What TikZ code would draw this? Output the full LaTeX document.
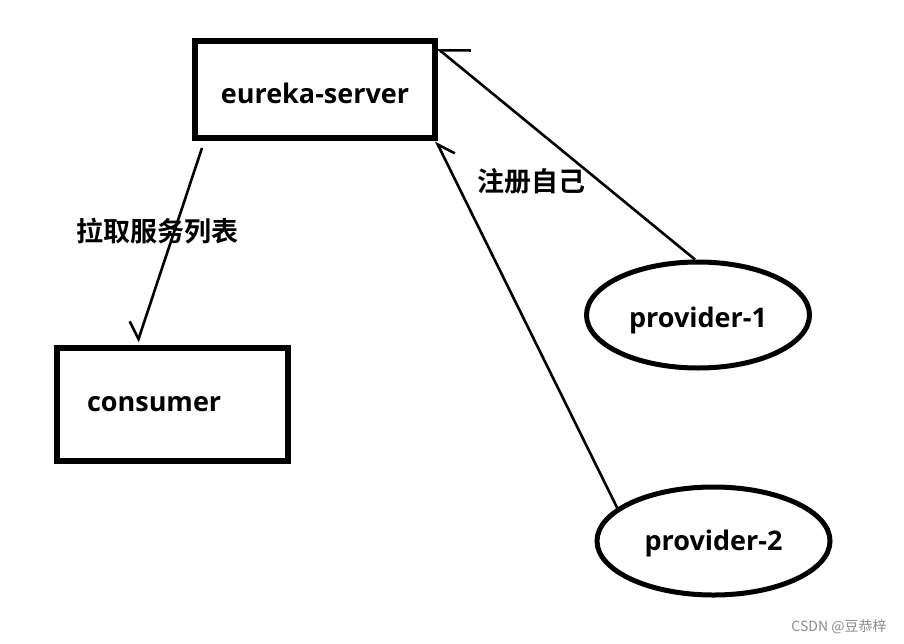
\documentclass[tikz,border=0pt]{standalone}
\usepackage{fontspec}
\setmainfont{Open Sans}
\newfontfamily\cjk[BoldFont={Noto Sans CJK SC Bold}]{Noto Sans CJK SC}
\usetikzlibrary{arrows.meta,shapes.geometric}
\definecolor{wmgray}{RGB}{140,140,140}
\begin{document}
\begin{tikzpicture}[x=1pt,y=-1pt,
  box/.style={draw, line width=6pt, inner sep=0pt, font=\bfseries\fontsize{27}{32}\selectfont},
  ell/.style={draw, ellipse, line width=5pt, inner sep=0pt, font=\bfseries\fontsize{27}{32}\selectfont},
  conn/.style={draw, line width=2.6pt},
  cnlbl/.style={font=\cjk\bfseries\fontsize{27}{32}\selectfont, inner sep=0pt},
  wm/.style={font=\cjk\fontsize{14}{16}\selectfont, text=wmgray, inner sep=0pt}
]
\useasboundingbox[fill=white] (0,0) rectangle (904,643);

\node[box, minimum width=240pt, minimum height=97pt, text height=28pt, text depth=0pt] (es) at (315,89.5) {eureka-server};
\node[box, minimum height=113pt, text width=171pt, inner xsep=30pt, align=left] (cons) at (172.5,404.5) {consumer};
\node[ell, minimum width=223pt, minimum height=106pt, text height=30pt, text depth=6pt] (p1) at (698,315) {provider-1};
\node[ell, minimum width=233pt, minimum height=108pt, text height=25pt, text depth=6pt] (p2) at (713.5,541) {provider-2};

\node[cnlbl] (l1) at (531,181) {注册自己};
\node[cnlbl] (l2) at (157,231) {拉取服务列表};
\node[wm] (w) at (839,627) {CSDN @豆恭梓};

\draw[conn, -{Straight Barb[right, length=14pt, width=28pt]}]
  ([xshift=10pt,yshift=-7pt]es.south west) -- ([xshift=-35pt,yshift=3pt]cons.north);
\draw[conn, -{Straight Barb[right, length=24pt, width=39pt]}]
  ([xshift=-3pt]p1.north) -- ([xshift=-1pt,yshift=-10pt]es.north east);
\draw[conn, -{Straight Barb[right, length=15.5pt, width=23pt]}]
  (p2.161) -- ([xshift=-2pt]es.south east);
\end{tikzpicture}
\end{document}
